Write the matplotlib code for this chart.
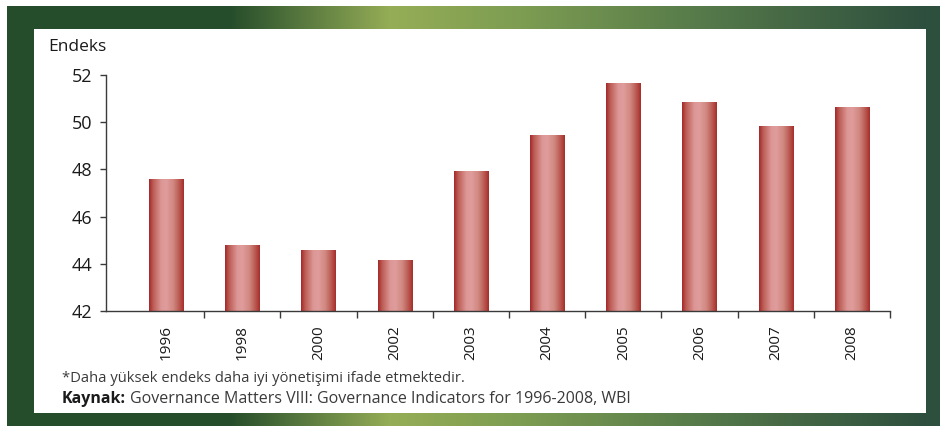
import numpy as np
import matplotlib
matplotlib.use("Agg")
import matplotlib.pyplot as plt
from matplotlib.colors import LinearSegmentedColormap

# data
years = ["1996", "1998", "2000", "2002", "2003", "2004", "2005", "2006", "2007", "2008"]
endeks = [47.6, 44.8, 44.6, 44.15, 47.95, 49.45, 51.65, 50.85, 49.85, 50.65]
yticks = [42, 44, 46, 48, 50, 52]

plt.rcParams["font.family"] = ["Open Sans", "DejaVu Sans"]
W, H = 940, 426
fig = plt.figure(figsize=(W / 100, H / 100), dpi=100)

# green frame behind everything
bg = np.ones((H, W, 3))
dark = np.array([38, 77, 43]) / 255
xs = np.arange(W)
stops_x = [0, 230, 390, 520, 700, 939]
stops_c = np.array([[38, 77, 43], [38, 77, 43], [149, 173, 86], [125, 157, 82],
                    [86, 122, 74], [43, 76, 61]]) / 255
band = np.stack([np.interp(xs, stops_x, stops_c[:, k]) for k in range(3)], axis=1)
bg[6:29, 7:] = band[7:]
bg[413:426, 7:] = band[7:]
bg[6:426, 7:34] = dark
bg[6:426, 926:] = np.array([44, 79, 62]) / 255
bax = fig.add_axes([0, 0, 1, 1], zorder=0)
bax.imshow(bg, aspect="auto", interpolation="nearest")
bax.axis("off")

# chart axes: x 106..890 px, y 75..311 px
ax = fig.add_axes([106 / W, 1 - 311 / H, (890 - 106) / W, (311 - 75) / H], zorder=1)
ax.patch.set_alpha(0)
x = np.arange(len(years))
bars = ax.bar(x, endeks, width=0.45, bottom=0, color="none", edgecolor="none")

bar_cmap = LinearSegmentedColormap.from_list("barshade", [
    (0.0, "#a22828"), (0.12, "#bd5c56"), (0.35, "#dc9796"), (0.5, "#e09c9c"),
    (0.7, "#d08880"), (0.88, "#b8554d"), (1.0, "#a52d2b")])
grad = np.linspace(0, 1, 256).reshape(1, -1)
for b in bars:
    x0, w, h = b.get_x(), b.get_width(), b.get_height()
    im = ax.imshow(grad, cmap=bar_cmap, aspect="auto", extent=[x0, x0 + w, 42, h],
                   zorder=2, interpolation="bilinear")
    im.set_clip_path(b)
ax.set_xlim(-0.79, 9.5)
ax.set_ylim(42, 52)

for s in ["top", "right"]:
    ax.spines[s].set_visible(False)
for s in ["left", "bottom"]:
    ax.spines[s].set_color("#3a3a3a")
    ax.spines[s].set_linewidth(1.0)
    ax.spines[s].set_zorder(3)

ax.set_yticks(yticks)
ax.set_yticklabels([str(t) for t in yticks], fontsize=13, color="#1a1a1a")
ax.tick_params(axis="y", length=4, width=1, color="#3a3a3a", pad=6)
ax.set_xticks(x)
ax.set_xticklabels(years, rotation=90, fontsize=11, color="#1a1a1a")
ax.tick_params(axis="x", which="major", length=0, pad=10)
ax.set_xticks(x + 0.5, minor=True)
ax.tick_params(axis="x", which="minor", length=5, width=1, color="#3a3a3a")

fig.text(48 / W, 1 - 47 / H, "Endeks", fontsize=12.5, color="#1a1a1a", va="center", zorder=5)
fig.text(62 / W, 1 - 379 / H, "*Daha yüksek endeks daha iyi yönetişimi ifade etmektedir.",
         fontsize=10.6, color="#3a3a3a", va="center", zorder=5)
t = fig.text(62 / W, 1 - 399 / H, "Kaynak:", fontsize=11.5, fontweight="bold",
             color="#1a1a1a", va="center", zorder=5)
fig.canvas.draw()
bb = t.get_window_extent()
fig.text(bb.x1 / W + 4 / W, 1 - 399 / H,
         "Governance Matters VIII: Governance Indicators for 1996-2008, WBI",
         fontsize=11.5, color="#3a3a3a", va="center", zorder=5)

fig.savefig("out.png", dpi=100)
